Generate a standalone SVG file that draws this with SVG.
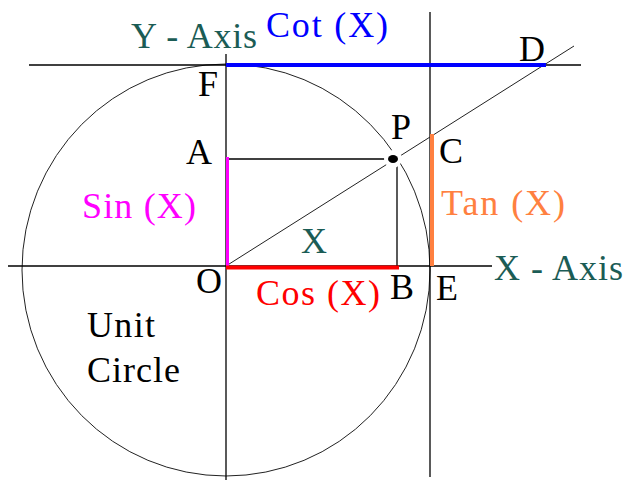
<svg xmlns="http://www.w3.org/2000/svg" width="629" height="480" viewBox="0 0 629 480">
<style>
.ln{stroke:#000;stroke-width:1.3;fill:none}
.thin{stroke:#222;stroke-width:1;fill:none}
.k{fill:#000}
.teal{fill:#1b5c55}
</style>
<rect width="629" height="480" fill="#fff"/>
<g id="circle"><ellipse cx="226" cy="270" rx="204" ry="206" class="thin"/></g>
<g id="connectors">
<line x1="29" y1="65" x2="581" y2="65" class="ln"/>
<line x1="226" y1="54" x2="226" y2="480" class="ln"/>
<line x1="8" y1="266" x2="492" y2="266" class="ln"/>
<line x1="430" y1="12" x2="430" y2="477" class="ln"/>
<line x1="226" y1="266" x2="574" y2="46" class="thin"/>
<line x1="226" y1="159" x2="393" y2="159" class="ln"/>
<line x1="397" y1="159" x2="397" y2="266" class="ln"/>
<line x1="226" y1="65" x2="546" y2="65" stroke="#0000ff" stroke-width="4"/>
<line x1="227.5" y1="157" x2="227.5" y2="266" stroke="#ff00ff" stroke-width="3"/>
<line x1="226" y1="267.5" x2="399" y2="267.5" stroke="#ff0000" stroke-width="4"/>
<line x1="432" y1="134" x2="432" y2="266" stroke="#ff8040" stroke-width="4"/>
</g>
<g id="P">
<circle cx="393" cy="159" r="9" fill="#fff"/>
<ellipse cx="393" cy="159" rx="5" ry="4" fill="#000"/>
</g>
<g id="labels" font-family="Liberation Serif, DejaVu Serif, serif" font-size="36">
<text x="391" y="139" class="k">P</text>
<text x="131" y="48" class="teal" textLength="126">Y - Axis</text>
<text x="266" y="37" fill="#0000ff" textLength="122">Cot (X)</text>
<text x="198" y="96" class="k">F</text>
<text x="519" y="61" class="k">D</text>
<text x="186" y="164" class="k">A</text>
<text x="439" y="163" class="k">C</text>
<text x="82" y="218" fill="#ff00ff" textLength="114">Sin (X)</text>
<text x="441" y="215" fill="#ff8040" textLength="124">Tan (X)</text>
<text x="301" y="253" class="teal">X</text>
<text x="494" y="280" class="teal" textLength="129">X - Axis</text>
<text x="196" y="293" class="k">O</text>
<text x="256" y="305" fill="#ff0000" textLength="124">Cos (X)</text>
<text x="390" y="299" class="k">B</text>
<text x="436" y="300" class="k">E</text>
<text x="87" y="337" class="k" textLength="68">Unit</text>
<text x="87" y="382" class="k" textLength="93">Circle</text>
</g>
</svg>
